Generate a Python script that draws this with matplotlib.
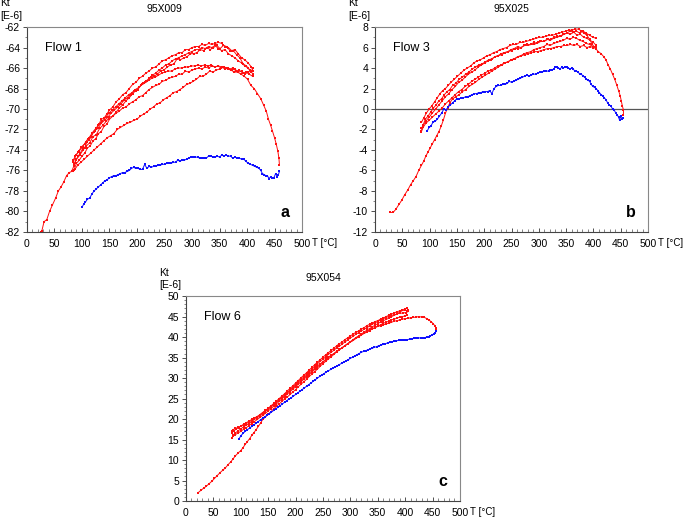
import numpy as np
import matplotlib.pyplot as plt
from matplotlib.ticker import MultipleLocator

plt.rcParams['font.family'] = ['Liberation Sans', 'DejaVu Sans']
plt.rcParams['axes.unicode_minus'] = False

# ---------------- panel a: 95X009, Flow 1 ----------------
a_red_1 = [(25, -82.0), (27, -81.9), (31, -81.0), (36, -80.8), (41, -80.0), (46, -79.4), (52, -78.7),
           (57, -78.0), (62, -77.6), (67, -77.1), (72, -76.5), (77, -76.2), (81, -76.1), (85, -75.6),
           (89, -75.0), (93, -74.6), (97, -74.3), (101, -73.9), (105, -73.8), (109, -73.2), (113, -73.0),
           (117, -72.7), (121, -72.2), (125, -72.0), (130, -71.6), (135, -71.0), (140, -70.9), (145, -70.5),
           (150, -70.1), (156, -69.8), (162, -69.3), (168, -69.0), (174, -68.6), (180, -68.4), (186, -68.0),
           (192, -67.6), (198, -67.4), (204, -67.0), (210, -66.8), (216, -66.5), (222, -66.3), (228, -66.0),
           (234, -65.9), (240, -65.6), (246, -65.3), (252, -65.2), (258, -65.0), (264, -64.8), (270, -64.7),
           (276, -64.5), (282, -64.5), (288, -64.2), (294, -64.2), (300, -64.0), (306, -63.9), (312, -63.9),
           (318, -63.7), (324, -63.8), (330, -63.6), (336, -63.7), (342, -63.6), (348, -63.5), (354, -63.6),
           (360, -63.9), (366, -64.0), (372, -64.3), (378, -64.2), (384, -64.6), (390, -65.0), (396, -65.2),
           (402, -65.5), (408, -65.9), (411, -66.3)]
a_red_2 = [(411, -66.6), (405, -66.2), (399, -65.8), (393, -65.6), (387, -65.0), (381, -64.7), (375, -64.3),
           (369, -64.3), (363, -63.9), (357, -63.8), (351, -64.1), (345, -63.8), (339, -64.0), (333, -64.2),
           (327, -64.0), (321, -64.3), (315, -64.2), (309, -64.5), (303, -64.6), (297, -64.6), (291, -64.9),
           (285, -65.0), (279, -65.2), (273, -65.1), (267, -65.6), (261, -65.7), (255, -65.9), (249, -66.2),
           (243, -66.3), (237, -66.6), (231, -66.8), (225, -66.9), (219, -67.3), (213, -67.5), (207, -67.7),
           (201, -68.1), (195, -68.2), (189, -68.6), (183, -68.9), (177, -69.1), (171, -69.5), (165, -69.8),
           (159, -70.1), (153, -70.4), (147, -70.8), (141, -71.1), (135, -71.4), (129, -71.9), (123, -72.1),
           (117, -72.6), (111, -72.9), (105, -73.4), (99, -73.7), (93, -74.2), (88, -74.6), (84, -75.0)]
a_red_3 = [(85, -76.0), (90, -75.3), (95, -75.0), (100, -74.6), (105, -74.3), (110, -73.8), (115, -73.6),
           (120, -73.1), (125, -72.9), (130, -72.4), (135, -72.2), (140, -71.7), (145, -71.5), (150, -71.0),
           (156, -70.7), (162, -70.3), (168, -69.9), (174, -69.6), (180, -69.2), (186, -68.9), (192, -68.5),
           (198, -68.2), (204, -67.9), (210, -67.5), (216, -67.3), (222, -67.0), (228, -66.7), (234, -66.5),
           (240, -66.2), (246, -66.0), (252, -65.7), (258, -65.6), (264, -65.3), (270, -65.1), (276, -65.0),
           (282, -64.8), (288, -64.7), (294, -64.5), (300, -64.4), (306, -64.2), (312, -64.2), (318, -64.0),
           (324, -64.1), (330, -63.9), (336, -64.0), (342, -63.8), (348, -64.1), (354, -64.3), (360, -64.2),
           (366, -64.6), (372, -64.8), (378, -65.0), (384, -65.3), (390, -65.5), (396, -65.8), (402, -66.0),
           (408, -66.4)]
a_red_4 = [(410, -66.8), (404, -66.6), (398, -66.4), (392, -66.5), (386, -66.2), (380, -66.3), (374, -66.0),
           (368, -66.1), (362, -66.0), (356, -65.9), (350, -66.1), (344, -66.2), (338, -66.4), (332, -66.3),
           (326, -66.6), (320, -66.8), (314, -66.8), (308, -67.1), (302, -67.3), (296, -67.5), (290, -67.6),
           (284, -67.9), (278, -68.1), (272, -68.3), (266, -68.4), (260, -68.7), (254, -68.9), (248, -69.1),
           (242, -69.4), (236, -69.5), (230, -69.8), (224, -70.0), (218, -70.3), (212, -70.5), (206, -70.7),
           (200, -71.0), (194, -71.1), (188, -71.3), (182, -71.4), (176, -71.6), (170, -71.8), (164, -72.0),
           (158, -72.4), (152, -72.6), (146, -72.8), (140, -73.1), (134, -73.4), (128, -73.7), (122, -74.0),
           (116, -74.3), (110, -74.6), (104, -74.9), (98, -75.2), (92, -75.5), (87, -75.9), (84, -76.1)]
a_red_5 = [(85, -75.4), (90, -74.9), (96, -74.5), (102, -74.0), (108, -73.6), (114, -73.3), (120, -72.7),
           (126, -72.5), (132, -71.9), (138, -71.6), (144, -71.2), (150, -70.8), (156, -70.7), (162, -70.4),
           (168, -70.2), (174, -69.9), (180, -69.8), (186, -69.5), (192, -69.3), (198, -69.1), (204, -68.8),
           (210, -68.7), (216, -68.4), (222, -68.1), (228, -67.9), (234, -67.7), (240, -67.6), (246, -67.3),
           (252, -67.2), (258, -67.0), (264, -66.9), (270, -66.8), (276, -66.6), (282, -66.6), (288, -66.3),
           (294, -66.4), (300, -66.2), (306, -66.1), (312, -66.0), (318, -66.1), (324, -65.9), (330, -66.0),
           (336, -65.8), (342, -65.9), (348, -65.8), (354, -65.9), (360, -66.1), (366, -66.0), (372, -66.2),
           (378, -66.1), (384, -66.4), (390, -66.3), (396, -66.6), (402, -66.4), (408, -66.3), (411, -66.0)]
a_red_6 = [(84, -75.2), (89, -74.5), (95, -74.1), (101, -73.7), (107, -73.2), (113, -72.8), (119, -72.3),
           (125, -71.9), (131, -71.5), (137, -71.2), (143, -70.8), (149, -70.4), (155, -70.1), (161, -69.8),
           (167, -69.5), (173, -69.2), (179, -68.9), (185, -68.6), (191, -68.4), (197, -68.1), (203, -67.9),
           (209, -67.6), (215, -67.4), (221, -67.2), (227, -67.0), (233, -66.9), (239, -66.7), (245, -66.5),
           (251, -66.4), (257, -66.3), (263, -66.3), (269, -66.1), (275, -66.0), (281, -66.0), (287, -65.9),
           (293, -65.9), (299, -65.8), (305, -65.8), (311, -65.7), (317, -65.8), (323, -65.7), (329, -65.8),
           (335, -65.7), (341, -65.9), (347, -65.8), (353, -66.0), (359, -65.9), (365, -66.1), (371, -66.2),
           (377, -66.4), (383, -66.4), (389, -66.6), (395, -66.8), (401, -67.1), (407, -67.7), (413, -68.0),
           (419, -68.5), (425, -69.0), (430, -69.6), (435, -70.2), (439, -71.0), (443, -71.6), (446, -72.1),
           (450, -72.8), (453, -73.4), (456, -74.1), (458, -74.8), (459, -75.5)]
a_blue = [(459, -76.1), (457, -76.4), (455, -76.6), (452, -76.3), (449, -76.7), (446, -76.7), (443, -76.6),
          (440, -76.8), (437, -76.5), (434, -76.5), (431, -76.4), (428, -76.3), (425, -76.0), (422, -75.8),
          (418, -75.7), (414, -75.6), (410, -75.5), (406, -75.4), (402, -75.3), (398, -75.1), (394, -74.9),
          (390, -74.9), (386, -74.8), (382, -74.8), (378, -74.7), (374, -74.8), (370, -74.6), (366, -74.6),
          (362, -74.5), (358, -74.6), (354, -74.5), (350, -74.7), (346, -74.6), (342, -74.7), (338, -74.7),
          (334, -74.6), (330, -74.6), (326, -74.8), (322, -74.8), (318, -74.8), (314, -74.8), (310, -74.7),
          (306, -74.7), (302, -74.7), (298, -74.7), (294, -74.8), (290, -74.9), (286, -75.0), (282, -75.0),
          (278, -75.1), (274, -75.0), (270, -75.2), (266, -75.2), (262, -75.3), (258, -75.3), (254, -75.3),
          (250, -75.4), (246, -75.4), (242, -75.5), (238, -75.5), (234, -75.6), (230, -75.6), (226, -75.7),
          (222, -75.6), (218, -75.8), (214, -75.4), (210, -75.9), (206, -75.9), (202, -75.8), (198, -75.8),
          (194, -75.7), (190, -75.8), (186, -76.0), (182, -76.1), (178, -76.2), (174, -76.2), (170, -76.3),
          (166, -76.4), (162, -76.5), (158, -76.5), (154, -76.6), (150, -76.7), (146, -76.9), (142, -77.0),
          (138, -77.2), (134, -77.4), (130, -77.6), (126, -77.8), (122, -78.0), (118, -78.3), (114, -78.7),
          (110, -78.8), (106, -79.1), (103, -79.3), (100, -79.6)]

# ---------------- panel b: 95X025, Flow 3 ----------------
b_red_1 = [(28, -10.1), (33, -10.1), (38, -9.8), (44, -9.3), (49, -8.9), (54, -8.4), (60, -7.9), (65, -7.4),
           (70, -7.0), (75, -6.6), (80, -6.0), (85, -5.5), (89, -5.1), (93, -4.6), (97, -4.2), (101, -3.8),
           (105, -3.4), (109, -3.0), (113, -2.6), (117, -2.2), (121, -1.7), (125, -1.1), (129, -0.4),
           (133, 0.1), (137, 0.6), (142, 1.0), (148, 1.2), (154, 1.4), (160, 1.7), (166, 1.9), (172, 2.2),
           (178, 2.4), (184, 2.6), (190, 2.9), (196, 3.1), (202, 3.3), (208, 3.5), (214, 3.7), (220, 3.9),
           (226, 4.1), (232, 4.3), (238, 4.5), (244, 4.6), (250, 4.8), (256, 4.9), (262, 5.1), (268, 5.2),
           (274, 5.3), (280, 5.4), (286, 5.5), (292, 5.6), (298, 5.6), (304, 5.7), (310, 5.8), (316, 5.9),
           (322, 5.9), (328, 6.0), (334, 6.1), (340, 6.1), (346, 6.2), (352, 6.2), (358, 6.3), (364, 6.2),
           (370, 6.3), (376, 6.1), (382, 6.2), (388, 6.0), (394, 6.1), (400, 6.0), (405, 5.9)]
b_red_2 = [(405, 6.9), (399, 7.0), (393, 7.2), (387, 7.4), (381, 7.6), (375, 7.4), (369, 7.6), (363, 7.5),
           (357, 7.6), (351, 7.4), (345, 7.3), (339, 7.1), (333, 7.0), (327, 6.9), (321, 6.7), (315, 6.8),
           (309, 6.6), (303, 6.6), (297, 6.4), (291, 6.5), (285, 6.3), (279, 6.3), (273, 6.2), (267, 6.0),
           (261, 6.1), (255, 5.9), (249, 5.8), (243, 5.6), (237, 5.5), (231, 5.4), (225, 5.2), (219, 5.1),
           (213, 4.8), (207, 4.7), (201, 4.5), (195, 4.3), (189, 4.1), (183, 3.8), (177, 3.6), (171, 3.4),
           (165, 3.1), (159, 2.8), (153, 2.6), (147, 2.2), (141, 1.9), (135, 1.5), (129, 1.2), (123, 0.8),
           (117, 0.4), (111, 0.0), (105, -0.4), (99, -0.8), (93, -1.2), (88, -1.6), (85, -1.9)]
b_red_3 = [(85, -2.1), (88, -1.6), (92, -1.0), (97, -0.7), (102, -0.3), (107, 0.1), (112, 0.4), (117, 0.8),
           (122, 1.0), (127, 1.4), (132, 1.7), (137, 1.9), (142, 2.3), (148, 2.5), (154, 2.9), (160, 3.1),
           (166, 3.4), (172, 3.6), (178, 3.9), (184, 4.1), (190, 4.3), (196, 4.4), (202, 4.6), (208, 4.8),
           (214, 4.9), (220, 5.1), (226, 5.2), (232, 5.3), (238, 5.5), (244, 5.6), (250, 5.7), (256, 5.9),
           (262, 5.9), (268, 6.0), (274, 6.2), (280, 6.2), (286, 6.3), (292, 6.3), (298, 6.5), (304, 6.6),
           (310, 6.6), (316, 6.8), (322, 6.8), (328, 7.0), (334, 7.1), (340, 7.1), (346, 7.3), (352, 7.4),
           (358, 7.3), (364, 7.5), (370, 7.2), (376, 7.3), (382, 7.0), (388, 6.9), (394, 6.7), (400, 6.5),
           (405, 6.2)]
b_red_4 = [(405, 6.1), (399, 6.1), (393, 6.3), (387, 6.4), (381, 6.6), (375, 6.7), (369, 6.9), (363, 7.0),
           (357, 6.8), (351, 6.9), (345, 6.7), (339, 6.6), (333, 6.5), (327, 6.4), (321, 6.2), (315, 6.3),
           (309, 6.1), (303, 6.0), (297, 5.9), (291, 5.8), (285, 5.6), (279, 5.5), (273, 5.4), (267, 5.2),
           (261, 5.1), (255, 4.9), (249, 4.8), (243, 4.6), (237, 4.5), (231, 4.3), (225, 4.2), (219, 4.0),
           (213, 3.8), (207, 3.7), (201, 3.5), (195, 3.3), (189, 3.1), (183, 2.9), (177, 2.7), (171, 2.4),
           (165, 2.2), (159, 1.9), (153, 1.7), (147, 1.4), (141, 1.1), (135, 0.8), (129, 0.5), (123, 0.1),
           (117, -0.2), (111, -0.5), (105, -0.8), (99, -1.1), (93, -1.4), (88, -1.8), (85, -2.2)]
b_red_5 = [(85, -1.3), (89, -0.9), (94, -0.4), (99, 0.0), (104, 0.3), (109, 0.7), (114, 1.1), (119, 1.5),
           (124, 1.8), (129, 2.0), (134, 2.3), (139, 2.6), (145, 2.9), (151, 3.2), (157, 3.5), (163, 3.8),
           (169, 4.0), (175, 4.2), (181, 4.5), (187, 4.7), (193, 4.8), (199, 5.0), (205, 5.2), (211, 5.3),
           (217, 5.5), (223, 5.6), (229, 5.8), (235, 5.9), (241, 6.0), (247, 6.2), (253, 6.3), (259, 6.3),
           (265, 6.5), (271, 6.5), (277, 6.6), (283, 6.7), (289, 6.8), (295, 6.9), (301, 7.0), (307, 7.0),
           (313, 7.1), (319, 7.2), (325, 7.2), (331, 7.3), (337, 7.4), (343, 7.5), (349, 7.6), (355, 7.7),
           (361, 7.7), (367, 7.8), (373, 7.8), (378, 7.6), (383, 7.4), (388, 7.2), (393, 6.8), (398, 6.3),
           (404, 5.9), (409, 5.6), (414, 5.4), (419, 5.1), (423, 4.8), (427, 4.3), (431, 3.9), (435, 3.4),
           (439, 2.9), (443, 2.3), (446, 1.8), (449, 1.3), (451, 0.8), (453, 0.3), (455, -0.1), (455, -0.6)]
b_blue = [(455, -0.9), (452, -1.0), (450, -0.7), (448, -1.1), (446, -0.8), (444, -0.6), (441, -0.4),
          (438, -0.1), (435, 0.0), (432, 0.3), (429, 0.4), (426, 0.6), (423, 0.9), (420, 1.1), (417, 1.3),
          (414, 1.4), (411, 1.6), (408, 1.8), (405, 2.0), (402, 2.1), (399, 2.2), (396, 2.4), (393, 2.7),
          (390, 2.8), (387, 2.9), (384, 3.1), (381, 3.2), (378, 3.4), (375, 3.4), (372, 3.6), (369, 3.7),
          (366, 3.7), (363, 3.9), (360, 4.0), (357, 3.9), (354, 4.0), (351, 4.1), (348, 4.1), (345, 4.0),
          (342, 4.1), (339, 3.9), (336, 4.0), (333, 4.1), (330, 4.1), (327, 3.9), (324, 3.8), (321, 3.8),
          (318, 3.7), (314, 3.7), (310, 3.7), (306, 3.6), (302, 3.6), (298, 3.5), (294, 3.4), (290, 3.4),
          (286, 3.3), (282, 3.2), (278, 3.3), (274, 3.2), (270, 3.1), (266, 3.0), (262, 2.9), (258, 2.8),
          (254, 2.7), (250, 2.6), (246, 2.7), (242, 2.5), (238, 2.4), (234, 2.4), (230, 2.3), (226, 2.3),
          (222, 2.2), (218, 2.0), (214, 1.5), (210, 1.8), (206, 1.7), (202, 1.7), (198, 1.7), (194, 1.6),
          (190, 1.6), (186, 1.5), (182, 1.5), (178, 1.4), (174, 1.3), (170, 1.2), (166, 1.2), (162, 1.1),
          (158, 1.1), (154, 1.0), (150, 1.0), (146, 0.8), (142, 0.6), (138, 0.4), (134, 0.2), (130, -0.1),
          (126, 0.0), (122, -0.4), (118, -0.7), (114, -1.0), (110, -1.2), (106, -1.3), (102, -1.7),
          (99, -1.8), (96, -2.1)]

# ---------------- panel c: 95X054, Flow 6 ----------------
c_red_1 = [(22, 2.0), (27, 2.6), (32, 3.1), (37, 3.6), (42, 4.2), (47, 4.8), (52, 5.5), (57, 6.2), (62, 6.9),
           (67, 7.5), (72, 8.1), (77, 8.9), (82, 9.6), (86, 10.3), (90, 11.0), (95, 11.7), (100, 12.3),
           (104, 13.0), (108, 13.8), (112, 14.5), (116, 15.2), (120, 16.0), (124, 16.7), (128, 17.4),
           (132, 18.2), (136, 19.0), (140, 19.9), (145, 20.5), (150, 21.2), (155, 21.8), (160, 22.5),
           (165, 23.1), (170, 23.7), (175, 24.3), (180, 24.9), (185, 25.4), (190, 26.0), (195, 26.6),
           (200, 27.2), (205, 27.9), (210, 28.5), (215, 29.1), (220, 29.7), (225, 30.4), (230, 31.0),
           (235, 31.6), (240, 32.2), (245, 32.9), (250, 33.5), (255, 34.1), (260, 34.7), (265, 35.2),
           (270, 35.8), (275, 36.4), (280, 36.9), (285, 37.4), (290, 37.9), (295, 38.4), (300, 38.9),
           (305, 39.4), (310, 39.9), (315, 40.3), (320, 40.8), (325, 41.2), (330, 41.7), (335, 42.1),
           (340, 42.5), (345, 42.9), (350, 43.3), (355, 43.7), (360, 44.0), (365, 44.3), (370, 44.6),
           (375, 45.0), (380, 45.3), (385, 45.7), (390, 46.1), (395, 46.5), (399, 46.9), (403, 47.0),
           (406, 46.6)]
c_red_2 = [(406, 46.3), (402, 46.0), (396, 45.9), (390, 45.8), (385, 45.7), (380, 45.4), (375, 45.3),
           (370, 45.0), (365, 44.8), (360, 44.5), (355, 44.4), (350, 44.0), (345, 43.8), (340, 43.4),
           (335, 43.1), (330, 42.8), (325, 42.3), (320, 42.0), (315, 41.5), (310, 41.2), (305, 40.7),
           (300, 40.3), (295, 39.8), (290, 39.4), (285, 38.8), (280, 38.4), (275, 37.9), (270, 37.3),
           (265, 36.8), (260, 36.2), (255, 35.7), (250, 35.1), (245, 34.5), (240, 33.9), (235, 33.3),
           (230, 32.6), (225, 32.0), (220, 31.3), (215, 30.7), (210, 30.1), (205, 29.4), (200, 28.8),
           (195, 28.1), (190, 27.5), (185, 26.9), (180, 26.2), (175, 25.6), (170, 25.0), (165, 24.4),
           (160, 23.8), (155, 23.2), (150, 22.6), (145, 22.1), (140, 21.6), (135, 21.0), (130, 20.6),
           (125, 20.2), (120, 19.7), (115, 19.3), (110, 18.9), (105, 18.6), (100, 18.2), (95, 18.0),
           (90, 17.7), (86, 17.4), (84, 17.1)]
c_red_3 = [(84, 15.4), (86, 16.0), (90, 16.6), (95, 17.1), (100, 17.6), (105, 18.1), (110, 18.5), (115, 18.9),
           (120, 19.4), (125, 19.9), (130, 20.3), (135, 20.8), (140, 21.3), (145, 21.9), (150, 22.4),
           (155, 22.9), (160, 23.5), (165, 24.1), (170, 24.7), (175, 25.3), (180, 25.9), (185, 26.5),
           (190, 27.2), (195, 27.8), (200, 28.4), (205, 29.1), (210, 29.7), (215, 30.3), (220, 31.0),
           (225, 31.6), (230, 32.2), (235, 32.8), (240, 33.5), (245, 34.1), (250, 34.6), (255, 35.2),
           (260, 35.8), (265, 36.3), (270, 36.8), (275, 37.4), (280, 37.8), (285, 38.3), (290, 38.8),
           (295, 39.3), (300, 39.8), (305, 40.2), (310, 40.7), (315, 41.1), (320, 41.5), (325, 41.9),
           (330, 42.3), (335, 42.7), (340, 43.1), (345, 43.5), (350, 43.8), (355, 44.2), (360, 44.6),
           (365, 45.0), (370, 45.3), (375, 45.6), (380, 45.9), (385, 46.2), (390, 46.4), (395, 46.5),
           (400, 46.6), (404, 46.4)]
c_red_4 = [(404, 45.5), (400, 45.2), (395, 45.0), (390, 44.9), (385, 44.6), (380, 44.4), (375, 44.2),
           (370, 43.9), (365, 43.6), (360, 43.4), (355, 43.0), (350, 42.7), (345, 42.4), (340, 42.0),
           (335, 41.6), (330, 41.2), (325, 40.9), (320, 40.5), (315, 40.1), (310, 39.7), (305, 39.2),
           (300, 38.8), (295, 38.4), (290, 37.9), (285, 37.4), (280, 37.0), (275, 36.5), (270, 36.0),
           (265, 35.5), (260, 35.0), (255, 34.4), (250, 33.9), (245, 33.3), (240, 32.7), (235, 32.1),
           (230, 31.5), (225, 30.9), (220, 30.3), (215, 29.7), (210, 29.1), (205, 28.5), (200, 27.9),
           (195, 27.3), (190, 26.7), (185, 26.1), (180, 25.5), (175, 24.9), (170, 24.3), (165, 23.7),
           (160, 23.1), (155, 22.5), (150, 22.0), (145, 21.4), (140, 20.9), (135, 20.4), (130, 19.9),
           (125, 19.4), (120, 18.9), (115, 18.4), (110, 17.9), (105, 17.5), (100, 17.0), (95, 16.6),
           (90, 16.2), (86, 15.8), (84, 15.5)]
c_red_5 = [(84, 16.7), (88, 17.2), (92, 17.6), (96, 17.9), (100, 18.3), (105, 18.7), (110, 19.1), (115, 19.5),
           (120, 19.9), (125, 20.3), (130, 20.6), (135, 21.1), (140, 21.6), (145, 22.1), (150, 22.6),
           (155, 23.1), (160, 23.6), (165, 24.2), (170, 24.7), (175, 25.3), (180, 25.8), (185, 26.4),
           (190, 27.0), (195, 27.6), (200, 28.2), (205, 28.8), (210, 29.4), (215, 30.0), (220, 30.6),
           (225, 31.2), (230, 31.8), (235, 32.4), (240, 33.0), (245, 33.5), (250, 34.0), (255, 34.6),
           (260, 35.1), (265, 35.6), (270, 36.0), (275, 36.5), (280, 37.0), (285, 37.4), (290, 37.9),
           (295, 38.3), (300, 38.8), (305, 39.2), (310, 39.7), (315, 40.1), (320, 40.6), (325, 41.0),
           (330, 41.4), (335, 41.7), (340, 42.0), (345, 42.3), (350, 42.6), (355, 42.8), (360, 43.0),
           (365, 43.2), (370, 43.4), (375, 43.6), (380, 43.9), (385, 44.0), (390, 44.2), (395, 44.4),
           (400, 44.5), (405, 44.6), (410, 44.7), (415, 44.8), (420, 44.9), (425, 45.0), (430, 44.9),
           (435, 44.8), (440, 44.5), (444, 44.1), (448, 43.7), (451, 43.3), (454, 42.8), (456, 42.3),
           (457, 41.7)]
c_blue = [(457, 41.5), (455, 41.1), (452, 40.8), (449, 40.5), (446, 40.3), (443, 40.1), (440, 40.0),
          (436, 39.9), (432, 39.9), (428, 39.8), (424, 39.8), (420, 39.7), (416, 39.7), (412, 39.6),
          (408, 39.5), (404, 39.4), (400, 39.4), (396, 39.3), (392, 39.3), (388, 39.2), (384, 39.1),
          (380, 39.0), (376, 38.9), (372, 38.8), (368, 38.6), (364, 38.4), (360, 38.2), (356, 38.1),
          (352, 37.9), (348, 37.7), (344, 37.5), (340, 37.3), (336, 37.1), (332, 36.9), (328, 36.7),
          (324, 36.5), (320, 36.3), (316, 36.0), (312, 35.7), (308, 35.4), (304, 35.1), (300, 34.8),
          (296, 34.5), (292, 34.2), (288, 33.9), (284, 33.6), (280, 33.3), (276, 33.0), (272, 32.7),
          (268, 32.4), (264, 32.1), (260, 31.8), (256, 31.5), (252, 31.1), (248, 30.8), (244, 30.4),
          (240, 30.0), (236, 29.6), (232, 29.2), (228, 28.8), (224, 28.4), (220, 28.0), (216, 27.6),
          (212, 27.2), (208, 26.8), (204, 26.4), (200, 26.0), (196, 25.6), (192, 25.2), (188, 24.9),
          (184, 24.5), (180, 24.1), (176, 23.7), (172, 23.3), (168, 22.9), (164, 22.5), (160, 22.1),
          (156, 21.7), (152, 21.3), (148, 20.9), (144, 20.6), (140, 20.2), (136, 19.8), (132, 19.4),
          (128, 19.0), (124, 18.6), (120, 18.2), (116, 17.8), (112, 17.4), (108, 17.0), (104, 16.5),
          (100, 15.9), (97, 15.2)]

panels = [
    dict(title='95X009', flow='Flow 1', letter='a', ylim=(-82, -62), ystep=2,
         red=[a_red_1, a_red_2, a_red_3, a_red_4, a_red_5, a_red_6], blue=a_blue, zero=False,
         rect=[0.0394, 0.554, 0.4015, 0.394]),
    dict(title='95X025', flow='Flow 3', letter='b', ylim=(-12, 8), ystep=2,
         red=[b_red_1, b_red_2, b_red_3, b_red_4, b_red_5], blue=b_blue, zero=True,
         rect=[0.5475, 0.554, 0.3985, 0.394]),
    dict(title='95X054', flow='Flow 6', letter='c', ylim=(0, 50), ystep=5,
         red=[c_red_1, c_red_2, c_red_3, c_red_4, c_red_5], blue=c_blue, zero=False,
         rect=[0.2715, 0.0365, 0.400, 0.394]),
]

fig = plt.figure(figsize=(6.85, 5.2), dpi=100)

for p in panels:
    ax = fig.add_axes(p['rect'])
    for seg in p['red']:
        t, k = np.array(seg).T
        ax.plot(t, k, color='#ff1010', lw=0.7, marker='s', ms=1.9, mew=0)
    t, k = np.array(p['blue']).T
    ax.plot(t, k, color='#1010ff', lw=0.7, marker='s', ms=2.1, mew=0)
    if p['zero']:
        ax.axhline(0, color='#555555', lw=0.9, zorder=0)

    ax.set_xlim(0, 500)
    ax.set_ylim(*p['ylim'])
    ax.xaxis.set_major_locator(MultipleLocator(50))
    ax.xaxis.set_minor_locator(MultipleLocator(10))
    ax.yaxis.set_major_locator(MultipleLocator(p['ystep']))
    ax.yaxis.set_minor_locator(MultipleLocator(1))
    ax.tick_params(axis='x', which='major', direction='in', length=3, width=0.6,
                   labelsize=7.5, pad=5, colors='#333333', labelcolor='black')
    ax.tick_params(axis='x', which='minor', direction='in', length=2, width=0.5, colors='#555555')
    ax.tick_params(axis='y', which='major', direction='out', length=3, width=0.6,
                   labelsize=7.5, pad=2, colors='#333333', labelcolor='black')
    ax.tick_params(axis='y', which='minor', direction='out', length=1.5, width=0.5, colors='#555555')
    for side in ['left', 'bottom']:
        ax.spines[side].set_color('#444444')
        ax.spines[side].set_linewidth(0.8)
    for side in ['top', 'right']:
        ax.spines[side].set_color('#888888')
        ax.spines[side].set_linewidth(0.8)

    ax.set_title(p['title'], fontsize=7.5, pad=11)
    ax.text(-0.098, 1.03, 'Kt\n[E-6]', transform=ax.transAxes, ha='left', va='bottom',
            fontsize=7.5, linespacing=1.3)
    ax.text(1.037, -0.055, 'T [°C]', transform=ax.transAxes, ha='left', va='center', fontsize=7)
    ax.text(0.065, 0.90, p['flow'], transform=ax.transAxes, ha='left', va='center', fontsize=9)
    ax.text(0.955, 0.095, p['letter'], transform=ax.transAxes, ha='right', va='center',
            fontsize=11.5, fontweight='bold')

fig.savefig('out.png', dpi=100)
